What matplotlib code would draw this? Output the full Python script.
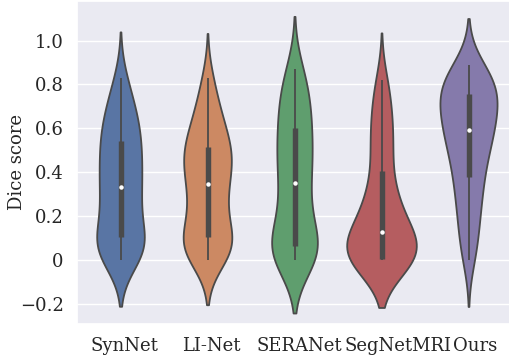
import numpy as np
import pandas as pd
import seaborn as sns
from matplotlib import pyplot as plt
from matplotlib.ticker import FuncFormatter
from matplotlib.transforms import ScaledTranslation

methods = ["SynNet", "LI-Net", "SERANet", "SegNetMRI", "Ours"]

# per-case dice scores on the test set (30 cases)
synnet = [0.00, 0.01, 0.03, 0.04, 0.06, 0.07, 0.09, 0.10, 0.13, 0.17,
          0.21, 0.24, 0.27, 0.30, 0.33, 0.34, 0.38, 0.41, 0.44, 0.47,
          0.49, 0.52, 0.55, 0.58, 0.61, 0.64, 0.67, 0.71, 0.76, 0.83]
linet = [0.00, 0.02, 0.03, 0.05, 0.06, 0.08, 0.09, 0.10, 0.13, 0.17,
         0.21, 0.24, 0.27, 0.30, 0.33, 0.365, 0.39, 0.42, 0.44, 0.46,
         0.48, 0.50, 0.52, 0.55, 0.58, 0.61, 0.65, 0.69, 0.75, 0.83]
seranet = [0.00, 0.01, 0.02, 0.03, 0.035, 0.04, 0.05, 0.055, 0.09, 0.13,
           0.17, 0.21, 0.25, 0.29, 0.33, 0.37, 0.41, 0.44, 0.47, 0.50,
           0.53, 0.57, 0.61, 0.64, 0.67, 0.71, 0.75, 0.79, 0.83, 0.87]
segnetmri = [0.00, 0.00, 0.00, 0.00, 0.00, 0.00, 0.00, 0.00, 0.03, 0.07,
             0.09, 0.10, 0.11, 0.12, 0.125, 0.135, 0.18, 0.22, 0.25, 0.28,
             0.31, 0.34, 0.43, 0.48, 0.53, 0.58, 0.63, 0.69, 0.75, 0.82]
ours = [0.00, 0.07, 0.13, 0.19, 0.24, 0.29, 0.33, 0.37, 0.41, 0.45,
        0.48, 0.51, 0.54, 0.56, 0.58, 0.61, 0.63, 0.65, 0.67, 0.69,
        0.71, 0.74, 0.76, 0.77, 0.79, 0.80, 0.82, 0.84, 0.86, 0.89]

yticks = [-0.2, 0, 0.2, 0.4, 0.6, 0.8, 1.0]

scores = [synnet, linet, seranet, segnetmri, ours]
df = pd.DataFrame({
    "method": np.repeat(methods, [len(s) for s in scores]),
    "dice": np.concatenate(scores),
})

sns.set_theme(style="darkgrid")
plt.rcParams["font.family"] = ["DejaVu Serif"]

fig = plt.figure(figsize=(5.09, 3.55), dpi=100)
ax = fig.add_axes([77 / 509, 31 / 355, 435 / 509, 323 / 355])

# one common scale for all violins so widths are comparable
sns.violinplot(data=df, x="method", y="dice", hue="method", order=methods,
               palette="deep", legend=False, bw_method=0.42, inner=None,
               common_norm=True, linewidth=1.3, linecolor="#4a4a4a", ax=ax)

# inner box: whiskers to min/max, thick IQR bar, white median dot
for i, s in enumerate(scores):
    q1, med, q3 = np.percentile(s, [25, 50, 75])
    ax.vlines(i, min(s), max(s), color="#4a4a4a", lw=1.3, zorder=3)
    ax.vlines(i, q1, q3, color="#4a4a4a", lw=3.9, zorder=3)
    ax.plot(i, med, "o", color="white", ms=2.2, zorder=4)

ax.set_xlim(-0.5, 4.5)
ax.set_ylim(-0.29, 1.18)
ax.set_yticks(yticks)
ax.yaxis.set_major_formatter(FuncFormatter(
    lambda v, p: "0" if abs(v) < 1e-9 else ("%.1f" % v).replace("-", "\u2212")))
ax.set_xlabel("")
ax.set_ylabel("Dice score", fontsize=13)
ax.yaxis.set_label_coords(-0.118, 0.5)
ax.tick_params(labelsize=13)
ax.grid(axis="x", visible=False)

# nudge the category names to the right, SegNetMRI most
shifts = [4, 4, 5, 17, 7]
for lab, dx in zip(ax.get_xticklabels(), shifts):
    lab.set_transform(lab.get_transform() + ScaledTranslation(dx / 100, 0, fig.dpi_scale_trans))

fig.savefig("out.png", dpi=100)
